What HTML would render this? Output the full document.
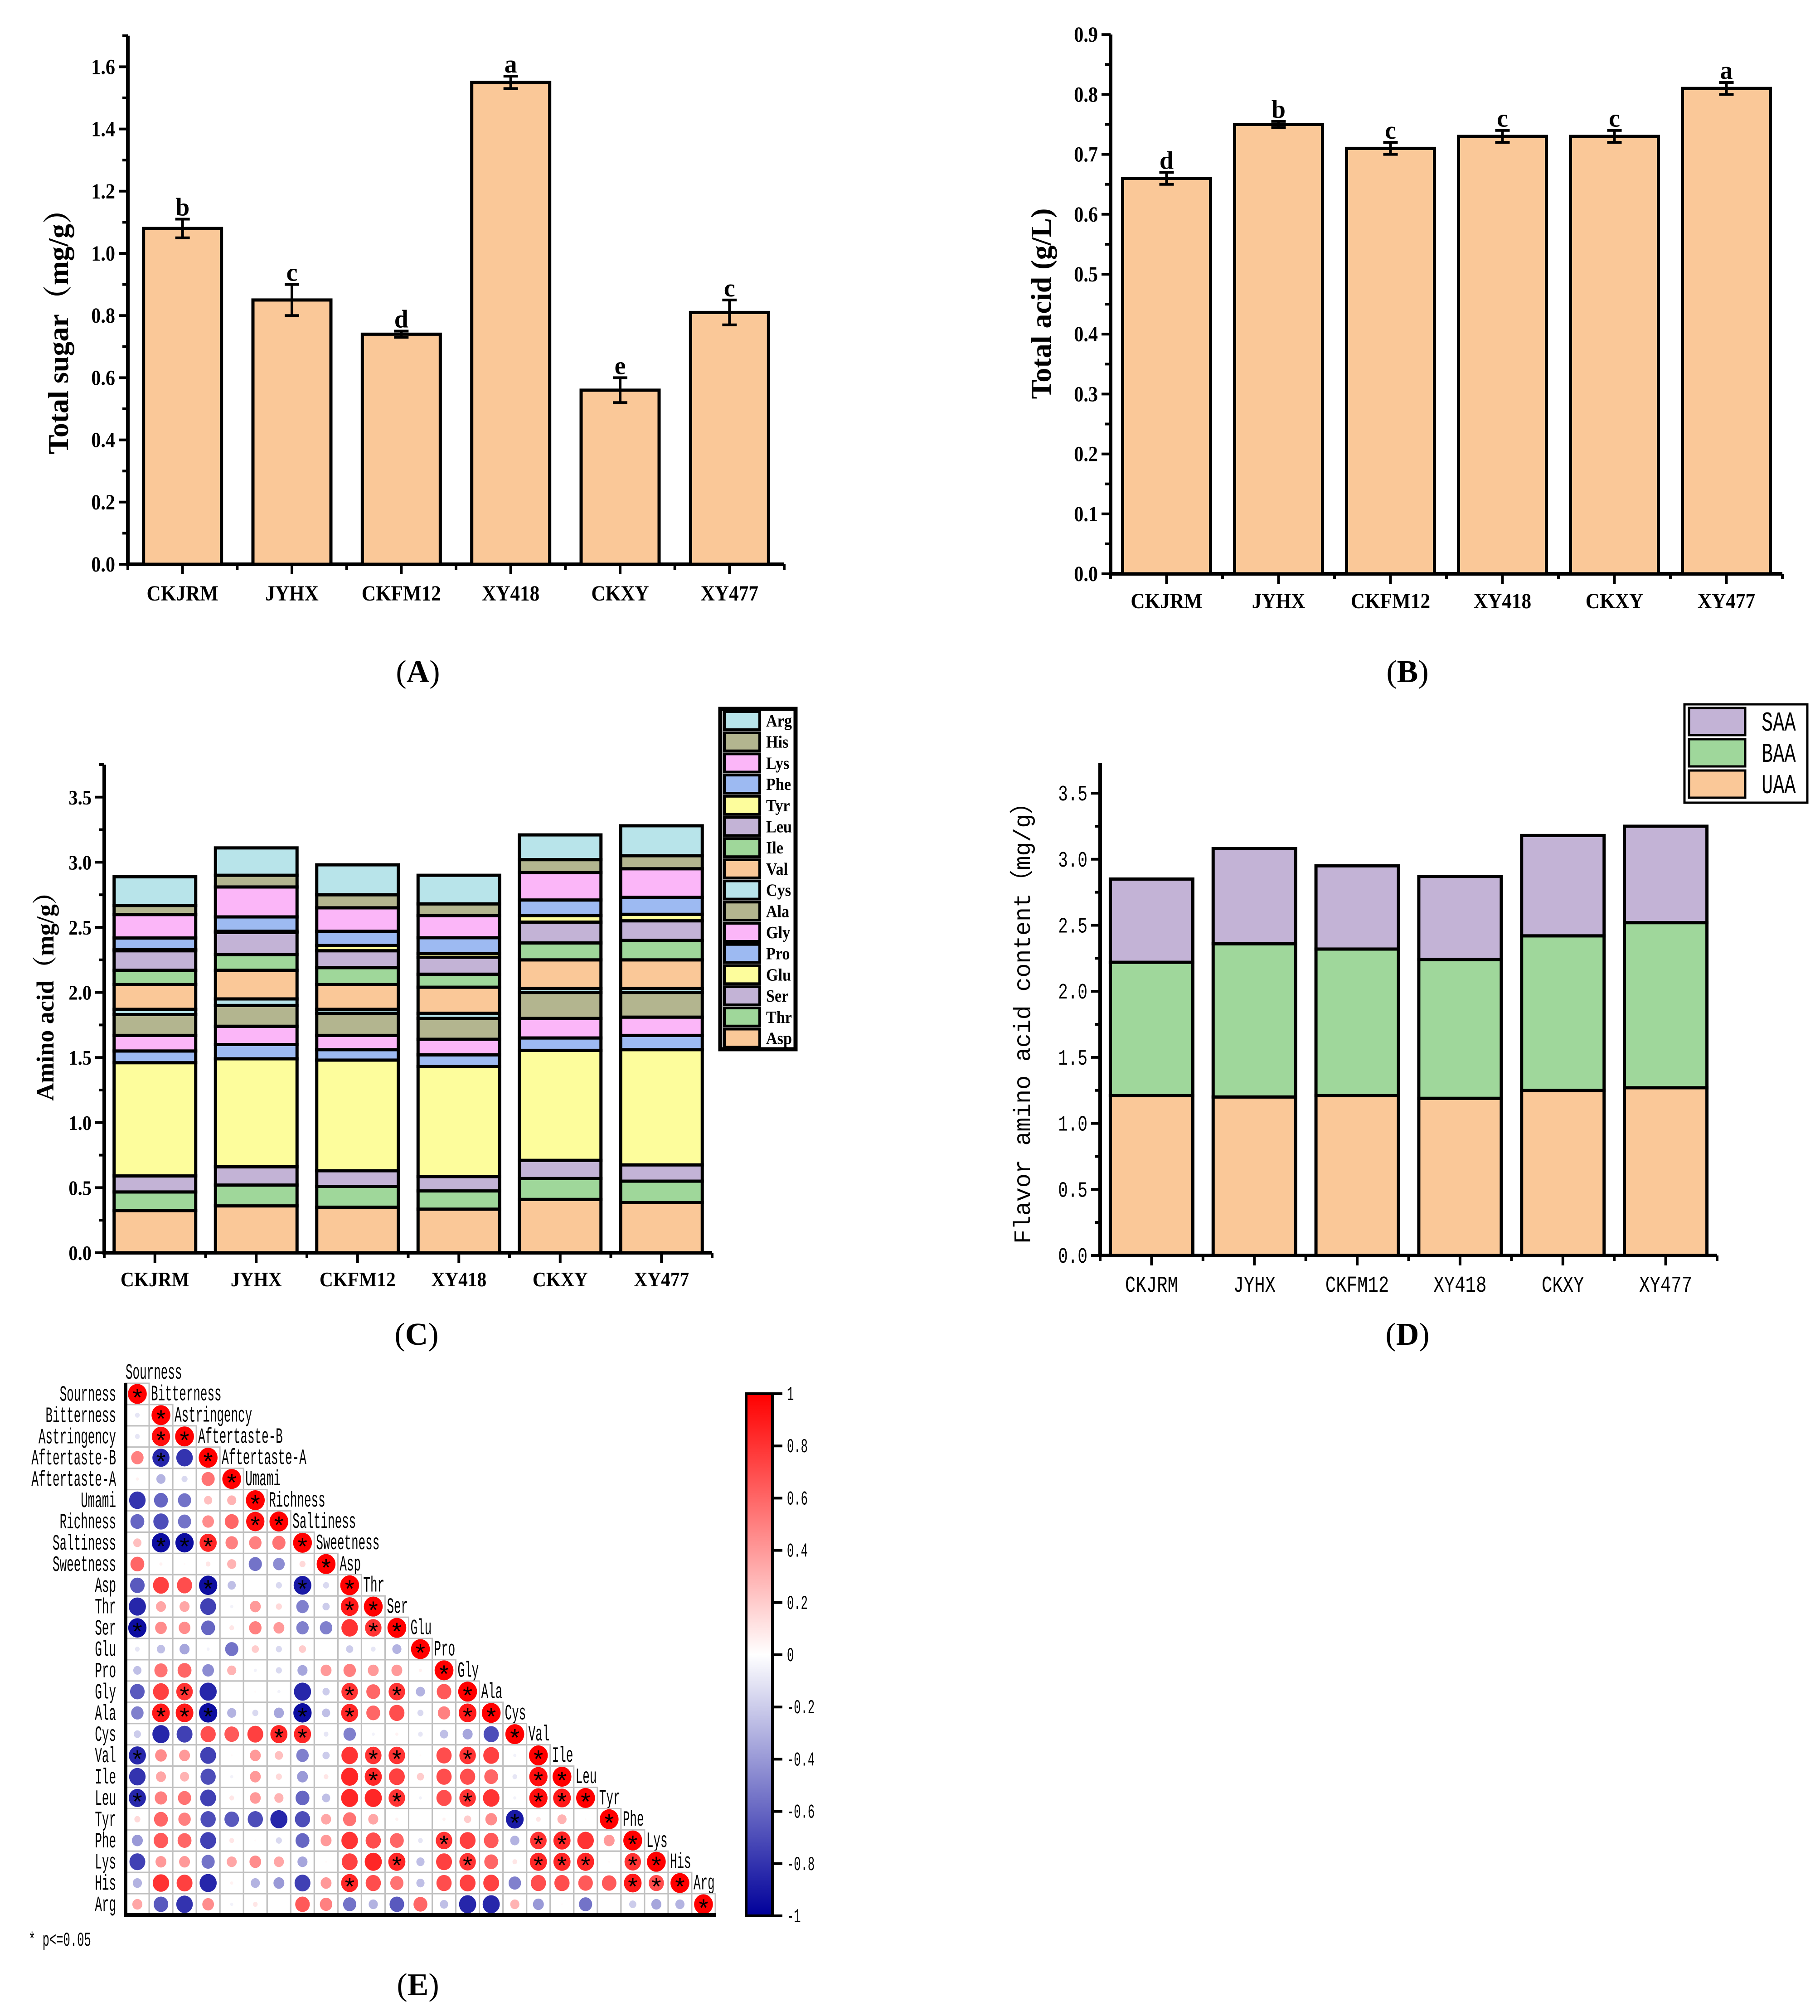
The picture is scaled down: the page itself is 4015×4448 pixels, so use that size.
<!DOCTYPE html>
<html><head><meta charset="utf-8"><title>Figure</title>
<style>html,body{margin:0;padding:0;background:#fff}svg{display:block}</style></head>
<body>
<svg id="fig" xmlns="http://www.w3.org/2000/svg" width="4015" height="4448" viewBox="0 0 4015 4448">
<rect x="0" y="0" width="4015" height="4448" fill="#fff"/>
<defs>
<linearGradient id="cbg" x1="0" y1="0" x2="0" y2="1">
<stop offset="0" stop-color="#ff0000"/><stop offset="0.5" stop-color="#ffffff"/><stop offset="1" stop-color="#00009a"/>
</linearGradient>
</defs>
</svg>
<script>
// ---------- DATA ----------
const cats = ['CKJRM','JYHX','CKFM12','XY418','CKXY','XY477'];
// A: total sugar
const sugarVals = [1.08,0.85,0.74,1.55,0.56,0.81];
const sugarErr  = [0.03,0.05,0.01,0.02,0.04,0.04];
const sugarLetters = ['b','c','d','a','e','c'];
const sugarTicks = ['0.0','0.2','0.4','0.6','0.8','1.0','1.2','1.4','1.6'];
// B: total acid
const acidVals = [0.66,0.75,0.71,0.73,0.73,0.81];
const acidErr  = [0.01,0.005,0.01,0.01,0.01,0.01];
const acidLetters = ['d','b','c','c','c','a'];
const acidTicks = ['0.0','0.1','0.2','0.3','0.4','0.5','0.6','0.7','0.8','0.9'];
// C: amino acids (stack order bottom->top)
const aaNames = ['Asp','Thr','Ser','Glu','Pro','Gly','Ala','Cys','Val','Ile','Leu','Tyr','Phe','Lys','His','Arg'];
const Asp=[.324,.36,.35,.335,.41,.385];
const Thr=[.143,.16,.16,.14,.16,.165];
const Ser=[.123,.14,.12,.11,.14,.125];
const Glu=[.87,.83,.85,.845,.845,.885];
const Pro=[.09,.11,.08,.09,.095,.11];
const Gly=[.12,.14,.11,.12,.15,.14];
const Ala=[.16,.16,.17,.16,.20,.19];
const Cys=[.04,.05,.03,.04,.03,.03];
const Val=[.19,.22,.19,.20,.22,.22];
const Ile=[.11,.12,.13,.10,.13,.15];
const Leu=[.15,.17,.13,.13,.16,.15];
const Tyr=[.008,.01,.04,.03,.05,.05];
const Phe=[.09,.11,.11,.12,.12,.13];
const Lys=[.18,.23,.18,.17,.21,.22];
const His=[.07,.09,.10,.09,.10,.10];
const Arg=[.22,.21,.23,.22,.19,.23];
const aaTicks=['0.0','0.5','1.0','1.5','2.0','2.5','3.0','3.5'];
// D: flavor amino acids
const UAA=[1.21,1.20,1.21,1.19,1.25,1.27];
const BAA=[1.01,1.16,1.11,1.05,1.17,1.25];
const SAA=[0.63,0.72,0.63,0.63,0.76,0.73];
const faaTicks=['0.0','0.5','1.0','1.5','2.0','2.5','3.0','3.5'];
// E: correlation (lower triangle rows)
const varList=['Sourness','Bitterness','Astringency','Aftertaste-B','Aftertaste-A','Umami','Richness','Saltiness','Sweetness','Asp','Thr','Ser','Glu','Pro','Gly','Ala','Cys','Val','Ile','Leu','Tyr','Phe','Lys','His','Arg'];
const corrRows=[
[],
[-0.1],
[-0.1,0.95],
[0.5,-0.85,-0.8],
[0.05,-0.3,-0.15,0.55],
[-0.8,-0.6,-0.55,0.25,0.3],
[-0.6,-0.7,-0.55,0.45,0.6,0.95],
[0.25,-0.95,-0.95,0.85,0.5,0.5,0.55],
[0.6,0.05,0.02,0.1,0.3,-0.55,-0.45,0.15],
[-0.65,0.75,0.7,-0.95,-0.25,0.0,-0.15,-0.9,-0.15],
[-0.85,0.35,0.35,-0.75,-0.05,0.4,0.15,-0.5,-0.2,0.9],
[-0.95,0.45,0.45,-0.6,0.1,0.5,0.4,-0.5,-0.5,0.8,0.8],
[-0.1,-0.25,-0.35,-0.05,-0.55,0.2,-0.15,0.2,0,-0.2,-0.1,-0.3],
[-0.25,0.55,0.6,-0.45,0.3,-0.05,-0.15,-0.35,0.4,0.5,0.4,0.4,0.05],
[-0.65,0.75,0.8,-0.85,0,0.02,-0.05,-0.85,-0.2,0.8,0.6,0.8,-0.3,0.65],
[-0.5,0.9,0.9,-0.95,-0.3,-0.15,-0.35,-0.95,-0.25,0.85,0.6,0.7,-0.15,0.5,0.9],
[-0.2,-0.85,-0.75,0.7,0.65,0.75,0.85,0.85,-0.1,-0.5,-0.05,0.05,-0.1,-0.25,-0.35,-0.7],
[-0.85,0.45,0.4,-0.75,0.02,0.4,0.25,-0.5,-0.2,0.8,0.8,0.8,0.02,0.7,0.8,0.75,-0.05],
[-0.8,0.35,0.3,-0.7,-0.05,0.4,0.15,-0.4,0.1,0.85,0.85,0.75,0.2,0.7,0.7,0.6,-0.1,0.95],
[-0.85,0.5,0.55,-0.75,0.1,0.4,0.3,-0.6,-0.25,0.85,0.85,0.8,-0.05,0.7,0.8,0.8,-0.05,0.95,0.9],
[0.15,0.6,0.5,-0.7,-0.65,-0.7,-0.85,-0.7,0.35,0.55,0.35,0.05,0,0.05,0.2,0.45,-0.9,0.1,0.3,0.02],
[-0.4,0.65,0.6,-0.75,0.1,0.02,-0.15,-0.6,0.4,0.8,0.7,0.6,-0.1,0.8,0.75,0.65,-0.3,0.8,0.85,0.8,0.4],
[-0.75,0.4,0.4,-0.55,0.35,0.45,0.35,-0.35,0.02,0.75,0.85,0.85,-0.25,0.75,0.8,0.6,0.1,0.85,0.85,0.85,0.02,0.8],
[-0.3,0.8,0.75,-0.85,0.05,-0.3,-0.4,-0.75,0.4,0.85,0.7,0.55,-0.25,0.7,0.75,0.75,-0.5,0.7,0.7,0.65,0.65,0.9,0.7],
[0.35,-0.65,-0.8,0.45,-0.05,0.1,0.0,0.65,0.5,-0.55,-0.3,-0.65,0.6,-0.25,-0.85,-0.85,0.3,-0.4,0.02,-0.55,0,-0.2,-0.35,-0.3]
];
const sigRows=[[],[],[1],[1],[],[],[5],[1,2,3],[],[3,7],[9],[0,10],[],[],[2,9,11],[1,2,3,7,9,14],[6,7],[0,10,11,14],[10,17],[0,11,14,17,18],[16],[13,17,18],[11,14,17,18,19,21],[9,21,22],[]];
const cbTicks=['1','0.8','0.6','0.4','0.2','0','-0.2','-0.4','-0.6','-0.8','-1'];

// ---------- HELPERS ----------
const NS='http://www.w3.org/2000/svg';
const svg=document.getElementById('fig');
function mk(tag,attrs,name,parent){
  const el=document.createElementNS(NS,tag);
  for(const k in attrs) el.setAttribute(k,attrs[k]);
  
  
  (parent||svg).appendChild(el);
  return el;
}
const SERIF='"Liberation Serif", serif';
const MONO='"Liberation Mono", "Noto Sans CJK SC", monospace';
function txt(x,y,s,size,o,name){
  o=o||{};
  let tr=`translate(${x},${y})`;
  if(o.rot) tr+=` rotate(${o.rot})`;
  if(o.sx) tr+=` scale(${o.sx},1)`;
  const a={x:0,y:0,transform:tr,'font-size':size,'font-family':o.family||SERIF,'font-weight':o.weight||'normal','text-anchor':o.anchor||'start',fill:'#000'};
  if(o.len){a.textLength=o.len;a.lengthAdjust='spacing';}
  const el=mk('text',a,name);
  el.textContent=s;
  return el;
}
function line(x1,y1,x2,y2,w,name,col){return mk('line',{x1,y1,x2,y2,stroke:col||'#000','stroke-width':w},name);}

function axes(c){
  const n=cats.length, slot=(c.x1-c.x0)/n;
  const y=v=>c.yB-v*c.unit;
  line(c.x0,c.yB+4,c.x0,y(c.yMax),8,c.id+'-y-axis');
  line(c.x0-4,c.yB,c.x1,c.yB,8,c.id+'-x-axis');
  for(let v=0;v<=c.yMax+1e-9;v+=c.minor){
    const major=Math.abs(v/c.major-Math.round(v/c.major))<1e-6;
    line(c.x0,y(v),c.x0-(major?20:12),y(v),6,c.id+'-y-tick');
  }
  c.ticks.forEach((t,i)=>txt(c.x0-28,y(i*c.major)+c.tickDy,t,c.tickSize,{anchor:'end',weight:c.tw,family:c.tf,sx:c.tsx},c.id+'-y-tick-label'));
  for(let i=0;i<=n;i++) line(c.x0+i*slot,c.yB,c.x0+i*slot,c.yB+12,6,c.id+'-x-minor-tick');
  cats.forEach((k,i)=>{
    const cx=c.x0+slot*(i+0.5);
    line(cx,c.yB,cx,c.yB+22,6,c.id+'-x-tick');
    txt(cx,c.catY,k,c.catSize,{anchor:'middle',weight:c.tw,family:c.tf,sx:c.csx},c.id+'-x-label');
  });
  return {y,slot};
}
function barChart(c){
  const {y,slot}=axes(c);
  c.vals.forEach((v,i)=>{
    const cx=c.x0+slot*(i+0.5);
    mk('rect',{x:cx-c.bw/2,y:y(v),width:c.bw,height:c.yB-y(v),fill:'#fac898',stroke:'#000','stroke-width':7},c.id+'-bar-'+cats[i]);
    const e=c.errs[i];
    line(cx,y(v+e),cx,y(v-e),6,c.id+'-error-bar');
    line(cx-16,y(v+e),cx+16,y(v+e),6,c.id+'-error-cap');
    line(cx-16,y(v-e),cx+16,y(v-e),6,c.id+'-error-cap');
    txt(cx,y(v+e)-8,c.letters[i],56,{anchor:'middle',weight:'bold'},c.id+'-significance-letter');
  });
}
function panelLabel(x,y,l,name){
  const el=txt(x,y,'',70,{anchor:'middle'},name);
  el.appendChild(document.createTextNode('('));
  const b=document.createElementNS(NS,'tspan');
  b.setAttribute('font-weight','bold');
  b.textContent=l;
  el.appendChild(b);
  el.appendChild(document.createTextNode(')'));
}

// ---------- A ----------
barChart({id:'sugar',x0:282,x1:1730,yB:1245,unit:686,yMax:1.7,major:0.2,minor:0.1,ticks:sugarTicks,tickSize:48,tickDy:16,tw:'bold',catY:1325,catSize:48,csx:0.9,tsx:0.88,bw:172,vals:sugarVals,errs:sugarErr,letters:sugarLetters});
txt(150,716,'Total sugar（mg/g）',64,{anchor:'middle',weight:'bold',rot:-90,family:'"Liberation Serif","Noto Serif CJK SC",serif'},'sugar-y-axis-title');
panelLabel(922,1505,'A','panel-label-a');
// ---------- B ----------
barChart({id:'acid',x0:2450,x1:3932,yB:1266,unit:1322,yMax:0.9,major:0.1,minor:0.05,ticks:acidTicks,tickSize:48,tickDy:16,tw:'bold',catY:1342,catSize:48,csx:0.9,tsx:0.88,bw:194,vals:acidVals,errs:acidErr,letters:acidLetters});
txt(2318,670,'Total acid (g/L)',64,{anchor:'middle',weight:'bold',rot:-90},'acid-y-axis-title');
panelLabel(3105,1505,'B','panel-label-b');

// ---------- C ----------
const aaColors=['#fac898','#9fd79a','#c3b3d6','#fdfd9c','#9dbaf2','#fbb6f8','#b3b58f','#b8e4ea'];
const aaSeries=[Asp,Thr,Ser,Glu,Pro,Gly,Ala,Cys,Val,Ile,Leu,Tyr,Phe,Lys,His,Arg];
(function(){
  const c={id:'amino',x0:230,x1:1571,yB:2764,unit:287.2,yMax:3.75,major:0.5,minor:0.25,ticks:aaTicks,tickSize:46,tickDy:16,tw:'bold',catY:2838,catSize:46,csx:0.9,tsx:0.88};
  const {y,slot}=axes(c);
  cats.forEach((k,i)=>{
    const cx=c.x0+slot*(i+0.5); let base=0;
    aaSeries.forEach((s,j)=>{
      const v=s[i];
      mk('rect',{x:cx-90,y:y(base+v),width:180,height:v*c.unit,fill:aaColors[j%8],stroke:'#000','stroke-width':7},'amino-segment-'+aaNames[j]);
      base+=v;
    });
  });
  txt(118,2185,'Amino acid（mg/g）',54,{anchor:'middle',weight:'bold',rot:-90,family:'"Liberation Serif","Noto Serif CJK SC",serif'},'amino-y-axis-title');
  mk('rect',{x:1589,y:1564,width:166,height:751,fill:'#fff',stroke:'#000','stroke-width':9},'amino-legend');
  for(let i=0;i<16;i++){
    const j=15-i, ty=1570+i*46.7;
    mk('rect',{x:1598,y:ty,width:78,height:40,fill:aaColors[j%8],stroke:'#000','stroke-width':6},'amino-legend-swatch');
    txt(1690,ty+33,aaNames[j],38,{weight:'bold',sx:0.9},'amino-legend-label');
  }
  panelLabel(919,2967,'C','panel-label-c');
})();

// ---------- D ----------
(function(){
  const c={id:'flavor',x0:2427,x1:3788,yB:2770,unit:291.4,yMax:3.73,major:0.5,minor:0.25,ticks:faaTicks,tickSize:48,tickDy:16,tw:'normal',tf:MONO,tsx:0.75,catY:2850,catSize:50,csx:0.78};
  const {y,slot}=axes(c);
  const fs=[UAA,BAA,SAA], fn=['UAA','BAA','SAA'], fc=['#fac898','#9fd79b','#c3b3d6'];
  cats.forEach((k,i)=>{
    const cx=c.x0+slot*(i+0.5); let base=0;
    fs.forEach((s,j)=>{
      mk('rect',{x:cx-91,y:y(base+s[i]),width:182,height:s[i]*c.unit,fill:fc[j],stroke:'#000','stroke-width':7},'flavor-segment-'+fn[j]);
      base+=s[i];
    });
  });
  txt(2272,2244,'Flavor amino acid content（mg/g）',52,{anchor:'middle',rot:-90,family:MONO,len:1000},'flavor-y-axis-title');
  mk('rect',{x:3716,y:1554,width:271,height:217,fill:'#fff',stroke:'#000','stroke-width':5},'flavor-legend');
  [2,1,0].forEach((j,i)=>{
    const ty=1562+i*69;
    mk('rect',{x:3726,y:ty,width:124,height:60,fill:fc[j],stroke:'#000','stroke-width':5},'flavor-legend-swatch');
    txt(3886,ty+50,fn[j],60,{family:MONO,sx:0.7},'flavor-legend-label');
  });
  panelLabel(3105,2967,'D','panel-label-d');
})();

// ---------- E ----------
(function(){
  const gx=277, gy=3052;
  const L=varList, N=L.length;
  const cW=(1578-277)/N, rH=(4225-3052)/N;
  function col(r){
    const a=Math.min(1,Math.abs(r));
    const g=Math.round(255*(1-a));
    if(r>=0) return `rgb(255,${g},${g})`;
    return `rgb(${g},${g},${Math.round(255-100*a)})`;
  }
  const LF='"Liberation Mono", "Noto Sans CJK SC", monospace';
  for(let i=0;i<N;i++){
    const cyy=gy+rH*(i+0.5);
    txt(256,cyy+15,L[i],48,{anchor:'end',family:LF,sx:0.54},'heatmap-row-label');
    const vals=corrRows[i].concat([1]);
    for(let j=0;j<=i;j++){
      const x=gx+j*cW, yy=gy+i*rH;
      mk('rect',{x:x,y:yy,width:cW,height:rH,fill:'none',stroke:'#c0c0c0','stroke-width':3},'heatmap-cell');
      const r=vals[j], s=Math.pow(Math.abs(r),0.6);
      if(s>0.02) mk('ellipse',{cx:x+cW/2,cy:yy+rH/2,rx:cW*0.4*s,ry:rH*0.47*s,fill:col(r)},'heatmap-circle');
      if(j===i || sigRows[i].indexOf(j)>=0) txt(x+cW/2,yy+rH/2+28,'*',54,{anchor:'middle',family:MONO},'significance-star');
    }
    if(i===0) txt(gx,gy-10,L[0],48,{family:LF,sx:0.54},'heatmap-column-label');
    if(i<N-1) txt(gx+(i+1)*cW+4,cyy+14,L[i+1],48,{family:LF,sx:0.54},'heatmap-column-label');
  }
  line(277,3052,277,4229,8,'heatmap-left-axis');
  line(273,4225,1580,4225,8,'heatmap-bottom-axis');
  mk('rect',{x:1646,y:3075,width:58,height:1152,fill:'url(#cbg)',stroke:'#000','stroke-width':6},'colorbar');
  cbTicks.forEach((t,i)=>{
    const ty=3075+i*115.2;
    line(1704,ty,1726,ty,6,'colorbar-tick');
    txt(1736,ty+14,t,44,{family:LF,sx:0.58},'colorbar-tick-label');
  });
  txt(63,4293,'* p<=0.05',44,{family:LF,sx:0.58},'significance-note');
  panelLabel(922,4402,'E','panel-label-e');
})();
</script>
</body></html>
